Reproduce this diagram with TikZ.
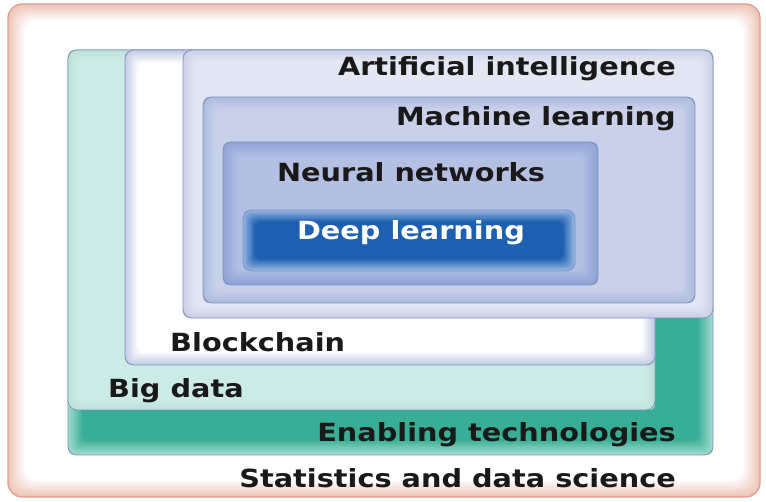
\documentclass[tikz,border=0pt]{standalone}
\usepackage{fontspec}
\setmainfont{DejaVu Sans}
\usepackage{tikz}
\usepackage{xcolor}

\definecolor{frameEdge}{HTML}{EEC3B6}
\definecolor{frameLine}{HTML}{D9A090}
\definecolor{boxLine}{HTML}{7D93BD}
\definecolor{tealEdge}{HTML}{9FDACD}
\definecolor{tealCore}{HTML}{38AE97}
\definecolor{bigEdge}{HTML}{BDE2DB}
\definecolor{bigCore}{HTML}{CDEBE6}
\definecolor{chainEdge}{HTML}{C3CBE7}
\definecolor{chainCore}{HTML}{FFFFFF}
\definecolor{aiEdge}{HTML}{C9D0E8}
\definecolor{aiCore}{HTML}{E3E7F3}
\definecolor{mlEdge}{HTML}{AEBADF}
\definecolor{mlCore}{HTML}{C8D0EA}
\definecolor{nnEdge}{HTML}{8FA3D6}
\definecolor{nnCore}{HTML}{B3BFE3}
\definecolor{dlEdge}{HTML}{95B6E5}
\definecolor{dlCore}{HTML}{1D5FB0}

\tikzset{
  box/.style={draw=boxLine, line width=0.8pt, rounded corners=9pt},
  lbl/.style={font=\bfseries\fontsize{25}{30}\selectfont, text=black!90, inner sep=0pt, xscale=1.15, transform shape},
}

\begin{document}
\begin{tikzpicture}[x=1pt, y=-1pt]
\useasboundingbox (0,0) rectangle (766,502);

% Outer frame with soft pink edge
\foreach \i in {0,...,10} {
    \pgfmathtruncatemacro{\p}{\i*10}
    \fill[white!\p!frameEdge, rounded corners=14pt] (8+\i*1.6,4+\i*1.6) rectangle (760-\i*1.6,497-\i*1.6);
}
\draw[frameLine, line width=1.2pt, rounded corners=14pt] (8,4) rectangle (760,497);

% Nested boxes, outermost first
\foreach \xa/\ya/\xb/\yb/\ce/\cc/\s in {
    68/50/713/455/tealEdge/tealCore/1.6,
    68/50/655/410/bigEdge/bigCore/1.2,
    125/50/655/365/chainEdge/chainCore/1.4,
    183/50/713/318/aiEdge/aiCore/1.2,
    203/97/695/303/mlEdge/mlCore/1.3,
    223/142/598/285/nnEdge/nnCore/1.6,
    243/210/575/271/dlEdge/dlCore/1.3} {
    \foreach \i in {0,...,9} {
        \pgfmathtruncatemacro{\p}{\i*11}
        \fill[\cc!\p!\ce, rounded corners=6pt] (\xa+\i*\s,\ya+\i*\s) rectangle (\xb-\i*\s,\yb-\i*\s);
    }
    \draw[box] (\xa,\ya) rectangle (\xb,\yb);
}

% Labels
\node[lbl, anchor=base east] (ai) at (676,76) {Artificial intelligence};
\node[lbl, anchor=base east] (ml) at (676,126) {Machine learning};
\node[lbl, anchor=base] (nn) at (411,182) {Neural networks};
\node[lbl, anchor=base, text=white] (dl) at (411,240) {Deep learning};
\node[lbl, anchor=base west] (bc) at (170,352) {Blockchain};
\node[lbl, anchor=base west] (bd) at (108,398) {Big data};
\node[lbl, anchor=base east] (et) at (676,442) {Enabling technologies};
\node[lbl, anchor=base east] (sd) at (676,487) {Statistics and data science};
\end{tikzpicture}
\end{document}
